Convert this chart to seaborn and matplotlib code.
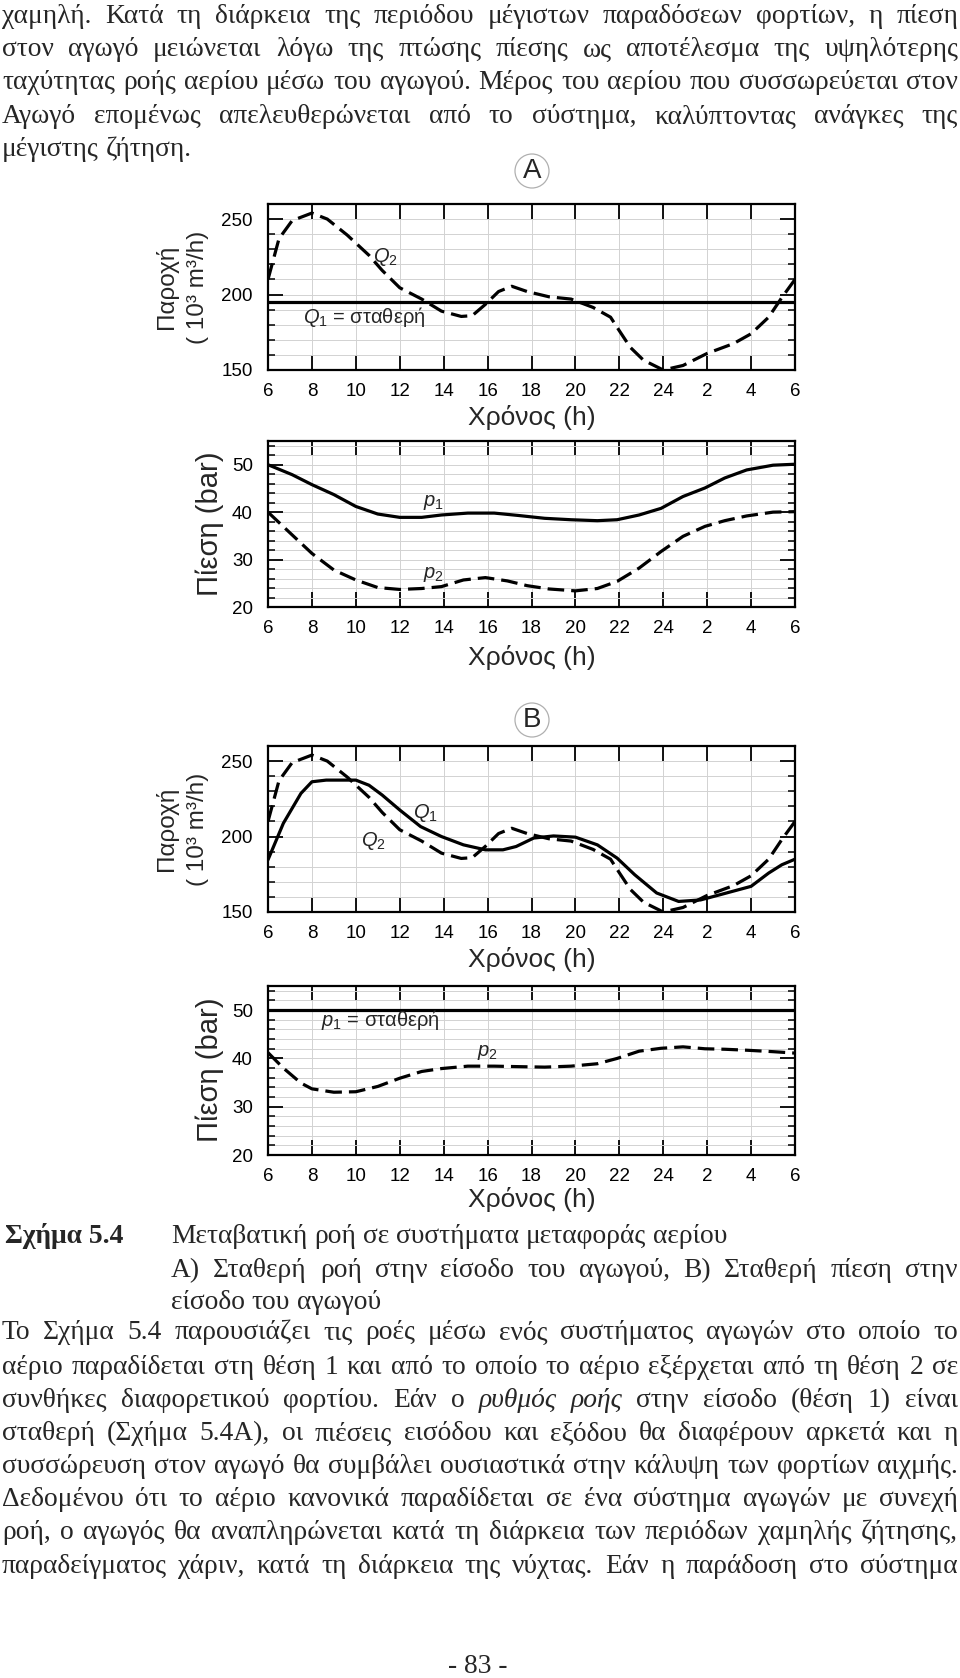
import matplotlib
matplotlib.use("Agg")
import matplotlib.pyplot as plt
import seaborn as sns
from matplotlib.ticker import FixedLocator, MultipleLocator
from matplotlib.patches import Ellipse

sns.set_theme(style="ticks")
plt.rcParams["font.family"] = ["Liberation Sans", "DejaVu Sans"]
plt.rcParams["mathtext.fontset"] = "custom"
plt.rcParams["mathtext.rm"] = "Liberation Sans"
plt.rcParams["mathtext.it"] = "Liberation Sans:italic"

# ── data (time in h, 6 -> 30 = 6 next morning) ─────────────
tick_hours = [6, 8, 10, 12, 14, 16, 18, 20, 22, 24, 26, 28, 30]
tick_labels = ["6", "8", "10", "12", "14", "16", "18", "20", "22", "24", "2", "4", "6"]

q2_hours = [6.0, 6.5, 7.1, 8.0, 8.7, 9.6, 10.6, 11.2, 12.0, 13.0, 13.9, 14.8, 15.3,
            15.9, 16.5, 17.1, 17.8, 18.8, 19.8, 20.8, 21.6, 22.0, 22.5, 23.1, 24.0,
            24.9, 26.0, 27.2, 28.0, 28.8, 29.4, 30.0]
q2_flow = [210, 237, 249, 254, 250, 239.5, 226, 216, 204.5, 197, 189, 185.5, 186,
           193.5, 202, 205.5, 202, 198.5, 197, 191.5, 185, 176, 165, 156.5, 150,
           153, 161, 167.5, 174, 185, 198, 210]
q1_const_A = 195

q1_hours_B = [6.0, 6.7, 7.5, 8.0, 8.65, 10.0, 10.6, 11.2, 12.0, 12.95, 13.9, 14.9,
              15.9, 16.7, 17.3, 18.1, 19.0, 20.0, 21.0, 21.9, 22.7, 23.7, 24.7,
              25.7, 26.6, 28.0, 28.8, 29.4, 30.0]
q1_flow_B = [184.6, 208.8, 228.6, 236.3, 237.4, 237.4, 234, 227.5, 217.6, 206.6,
             200, 194.5, 191.2, 191.2, 193.4, 199, 200.4, 199.6, 194.5, 185.7,
             174.7, 162.6, 157, 158, 161.5, 167, 175.8, 181.3, 185]

p1_hours_A = [6, 7.1, 8, 9, 10, 11, 12, 13, 13.9, 15.1, 16.3, 17.4, 18.6, 19.8, 21,
              21.9, 22.9, 23.9, 24.9, 25.9, 26.8, 27.8, 29, 30]
p1_bar_A = [50, 47.9, 45.8, 43.7, 41.2, 39.6, 38.9, 38.9, 39.4, 39.8, 39.8, 39.3,
            38.7, 38.4, 38.2, 38.4, 39.4, 40.8, 43.3, 45.1, 47.2, 48.9, 49.9, 50.1]

p2_hours_A = [6, 7.1, 8, 9, 10, 11, 12, 13, 13.9, 14.9, 15.9, 16.9, 17.8, 18.8, 20,
              21, 21.9, 22.9, 23.9, 24.9, 25.9, 26.8, 27.8, 29, 30]
p2_bar_A = [40, 35.2, 31.3, 27.8, 25.7, 24.1, 23.7, 23.9, 24.3, 25.7, 26.2, 25.5,
            24.5, 23.8, 23.4, 23.9, 25.4, 28.2, 31.7, 34.9, 37, 38.2, 39.2, 40, 40.1]

p1_const_B = 50
p2_hours_B = [6, 6.7, 7.5, 8, 9, 10, 11, 12, 13, 13.9, 15.1, 16.3, 17.4, 18.6, 19.8,
              21, 21.9, 22.9, 23.9, 24.9, 25.9, 26.8, 27.8, 29, 30]
p2_bar_B = [41.2, 38, 34.9, 33.7, 33, 33.1, 34.2, 35.9, 37.3, 37.9, 38.4, 38.4,
            38.3, 38.2, 38.4, 38.9, 40, 41.5, 42.1, 42.4, 42, 41.9, 41.7, 41.4, 41.1]

# ── text of the page ───────────────────────────────────────
top_par = [
    "χαμηλή. Κατά τη διάρκεια της περιόδου μέγιστων παραδόσεων φορτίων, η πίεση",
    "στον αγωγό μειώνεται λόγω της πτώσης πίεσης ως αποτέλεσμα της υψηλότερης",
    "ταχύτητας ροής αερίου μέσω του αγωγού. Μέρος του αερίου που συσσωρεύεται στον",
    "Αγωγό επομένως απελευθερώνεται από το σύστημα, καλύπτοντας ανάγκες της",
    "μέγιστης ζήτηση.",
]
caption_head = "Σχήμα 5.4"
caption_lines = [
    "Μεταβατική ροή σε συστήματα μεταφοράς αερίου",
    "Α) Σταθερή ροή στην είσοδο του αγωγού, Β) Σταθερή πίεση στην",
    "είσοδο του αγωγού",
]
bottom_par = [
    "Το Σχήμα 5.4 παρουσιάζει τις ροές μέσω ενός συστήματος αγωγών στο οποίο το",
    "αέριο παραδίδεται στη θέση 1 και από το οποίο το αέριο εξέρχεται από τη θέση 2 σε",
    "συνθήκες διαφορετικού φορτίου. Εάν ο *ρυθμός *ροής στην είσοδο (θέση 1) είναι",
    "σταθερή (Σχήμα 5.4Α), οι πιέσεις εισόδου και εξόδου θα διαφέρουν αρκετά και η",
    "συσσώρευση στον αγωγό θα συμβάλει ουσιαστικά στην κάλυψη των φορτίων αιχμής.",
    "Δεδομένου ότι το αέριο κανονικά παραδίδεται σε ένα σύστημα αγωγών με συνεχή",
    "ροή, ο αγωγός θα αναπληρώνεται κατά τη διάρκεια των περιόδων χαμηλής ζήτησης,",
    "παραδείγματος χάριν, κατά τη διάρκεια της νύχτας. Εάν η παράδοση στο σύστημα",
]

W, H = 960, 1678
fig = plt.figure(figsize=(W / 100, H / 100), dpi=100)
fig.patch.set_facecolor("white")
renderer = fig.canvas.get_renderer()
SERIF = ["Liberation Serif", "DejaVu Serif"]


def fx(x):
    return x / W


def fy(y):
    return 1 - y / H


def make_axes(top, bottom, left=268, right=795):
    return fig.add_axes([fx(left), fy(bottom), (right - left) / W, (bottom - top) / H])


def style_axes(ax, ylim, ymajor, yminor, xlabel_y):
    ax.set_xlim(tick_hours[0], tick_hours[-1])
    ax.set_ylim(*ylim)
    ax.xaxis.set_major_locator(FixedLocator(tick_hours))
    ax.set_xticklabels(tick_labels)
    ax.yaxis.set_major_locator(MultipleLocator(ymajor))
    ax.yaxis.set_minor_locator(MultipleLocator(yminor))
    ax.tick_params(axis="x", which="major", direction="in", length=11, width=1.3,
                   top=True, bottom=True, labelsize=13.5, pad=9.5, colors="black")
    ax.tick_params(axis="y", which="major", direction="in", length=11, width=1.3,
                   left=True, right=True, labelsize=13.5, pad=11, colors="black")
    ax.tick_params(axis="y", which="minor", direction="in", length=5, width=1.1,
                   left=True, right=True, colors="black")
    ax.grid(True, axis="x", which="major", color="#d2d2d2", lw=0.7)
    ax.grid(True, axis="y", which="both", color="#d2d2d2", lw=0.7)
    ax.set_axisbelow(True)
    for s in ax.spines.values():
        s.set_linewidth(1.6)
        s.set_color("black")
    ax.set_xlabel("")
    ax.set_ylabel("")
    fig.text(fx(531.5), fy(xlabel_y), "Χρόνος (h)", ha="center", va="center", fontsize=19)


def draw(ax, xs, ys, dashed=False):
    sns.lineplot(x=xs, y=ys, ax=ax, color="black", linewidth=2.3)
    ln = ax.lines[-1]
    if dashed:
        ln.set_dashes((5.2, 2.2))
    ln.set_solid_capstyle("round")


def flow_label(yc):
    fig.text(fx(166), fy(yc), "Παροχή", rotation=90, ha="center", va="center", fontsize=17.5)
    fig.text(fx(198), fy(yc), "( 10³ m³/h)", rotation=90, ha="center", va="center", fontsize=17.5)


def press_label(yc):
    fig.text(fx(210), fy(yc), "Πίεση (bar)", rotation=90, ha="center", va="center", fontsize=21)


def circ_label(x, y, s):
    fig.add_artist(Ellipse((fx(x), fy(y)), 34 / W, 34 / H, transform=fig.transFigure,
                           fill=False, edgecolor="#b0b0b0", lw=0.9))
    fig.text(fx(x), fy(y), s, ha="center", va="center", fontsize=20)


def ptext(x, y, s, ha="center", size=14.5):
    fig.text(fx(x), fy(y), s, ha=ha, va="center", fontsize=size)


# ── A : constant inlet flow ──
ax1 = make_axes(204, 370)
style_axes(ax1, (150, 260), 50, 10, 418)
ax1.axhline(q1_const_A, color="black", lw=2.3)
draw(ax1, q2_hours, q2_flow, dashed=True)
ptext(385, 257, "$Q_2$")
ptext(303, 317, "$Q_1$ = σταθερή", ha="left")
flow_label(287)
circ_label(532, 171, "A")

ax2 = make_axes(441, 607)
style_axes(ax2, (20, 55), 10, 2, 657)
draw(ax2, p1_hours_A, p1_bar_A)
draw(ax2, p2_hours_A, p2_bar_A, dashed=True)
ptext(433, 503, "$p_1$")
ptext(433, 575, "$p_2$")
press_label(524)

# ── B : constant inlet pressure ──
ax3 = make_axes(746, 912)
style_axes(ax3, (150, 260), 50, 10, 960)
draw(ax3, q1_hours_B, q1_flow_B)
draw(ax3, q2_hours, q2_flow, dashed=True)
ptext(425, 813, "$Q_1$")
ptext(373, 841, "$Q_2$")
flow_label(829)
circ_label(532, 720, "B")

ax4 = make_axes(986, 1155)
style_axes(ax4, (20, 55), 10, 2, 1199)
ax4.axhline(p1_const_B, color="black", lw=2.3)
draw(ax4, p2_hours_B, p2_bar_B, dashed=True)
ptext(321, 1020, "$p_1$ = σταθερή", ha="left")
ptext(487, 1052, "$p_2$")
press_label(1070)


# ── body text, justified word by word ──
def split_words(line):
    out = []
    for w in line.split(" "):
        if w.startswith("*"):
            out.append((w[1:], "italic"))
        else:
            out.append((w, "normal"))
    return out


def natural_width(line, size):
    tot = 0
    words = split_words(line)
    for w, st in words:
        t = fig.text(0, 0, w, fontsize=size, family=SERIF, style=st)
        tot += t.get_window_extent(renderer).width
        t.remove()
    return tot + (len(words) - 1) * 0.25 * size * 100 / 72


base = 24
need = max(natural_width(l, base) / (958 - 2) for l in [bottom_par[1], top_par[2]])
body_size = min(base, base / need * 0.99)


def put_line(line, x0, x1, yc, justify=True, size=None):
    size = size or body_size
    words = split_words(line)
    texts, widths = [], []
    yb = fy(yc + 0.27 * size * 100 / 72)
    for w, st in words:
        t = fig.text(0, yb, w, fontsize=size, family=SERIF, style=st, va="baseline", ha="left")
        texts.append(t)
        widths.append(t.get_window_extent(renderer).width)
    if justify and len(words) > 1:
        gap = (x1 - x0 - sum(widths)) / (len(words) - 1)
    else:
        gap = 0.25 * size * 100 / 72
    x = x0
    for t, wd in zip(texts, widths):
        t.set_x(fx(x))
        x += wd + gap


for i, (line, yc) in enumerate(zip(top_par, [16, 49, 82, 116, 149])):
    put_line(line, 2, 958, yc, justify=i < len(top_par) - 1)

fig.text(fx(5), fy(1236 + 0.27 * body_size * 100 / 72), caption_head, fontsize=body_size,
         family=SERIF, weight="bold", va="baseline", ha="left")
for i, (line, yc) in enumerate(zip(caption_lines, [1236, 1270, 1302])):
    put_line(line, 171, 958, yc, justify=(i == 1))

for line, yc in zip(bottom_par, [1332, 1367, 1400, 1433, 1466, 1499, 1532, 1566]):
    put_line(line, 2, 958, yc, justify=True)

fig.text(fx(478), fy(1666 + 0.27 * body_size * 100 / 72), "- 83 -", fontsize=body_size,
         family=SERIF, va="baseline", ha="center")

fig.savefig("out.png", dpi=100, facecolor="white")
